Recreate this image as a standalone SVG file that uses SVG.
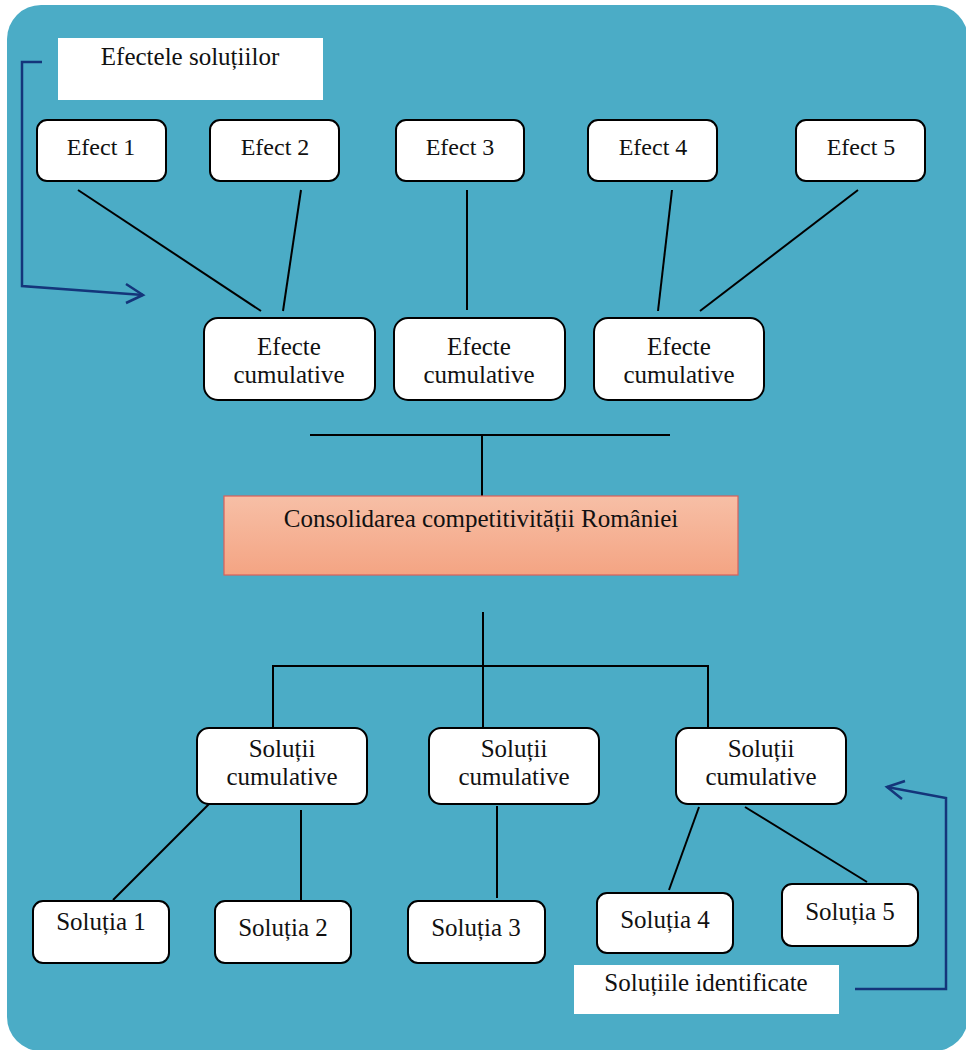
<svg xmlns="http://www.w3.org/2000/svg" width="966" height="1050" viewBox="0 0 966 1050">
<style>
.box{fill:#fff;stroke:#000;stroke-width:2}
.lbl{fill:#fff}
.t{font-family:"Liberation Serif","Times New Roman",serif;font-size:25px;fill:#111;text-anchor:middle}
.e{font-size:24px}
.ln{stroke:#000;stroke-width:2;fill:none}
.arr{stroke:#14357a;stroke-width:2.5;fill:none}
</style>
<defs>
<linearGradient id="g" x1="0" y1="0" x2="0" y2="1">
<stop offset="0" stop-color="#f7bfa6"/>
<stop offset="1" stop-color="#f4a483"/>
</linearGradient>
</defs>
<rect x="0" y="0" width="966" height="1050" fill="#fff"/>
<rect x="7" y="5" width="961" height="1046" rx="34" fill="#4bacc6"/>

<g id="connectors">
<line class="ln" x1="78" y1="190" x2="261" y2="311"/>
<line class="ln" x1="301" y1="190" x2="283" y2="311"/>
<line class="ln" x1="467" y1="190" x2="467" y2="310"/>
<line class="ln" x1="672" y1="190" x2="658" y2="311"/>
<line class="ln" x1="858" y1="190" x2="700" y2="311"/>
<line class="ln" x1="310" y1="435" x2="670" y2="435"/>
<line class="ln" x1="482" y1="435" x2="482" y2="498"/>
<line class="ln" x1="483" y1="612" x2="483" y2="728"/>
<polyline class="ln" points="273,728 273,666 708,666 708,728"/>
<line class="ln" x1="215" y1="798" x2="113" y2="900"/>
<line class="ln" x1="301" y1="810" x2="301" y2="900"/>
<line class="ln" x1="497" y1="806" x2="497" y2="898"/>
<line class="ln" x1="699" y1="807" x2="669" y2="890"/>
<line class="ln" x1="745" y1="807" x2="867" y2="882"/>
<polyline class="arr" points="42,62 22,62 22,286 143,295"/>
<polyline class="arr" points="126,284 143,295 126,303"/>
<polyline class="arr" points="855,989 946,989 946,798 887,787"/>
<polyline class="arr" points="905,781 887,787 902,799"/>
</g>

<g id="label-efecte">
<rect class="lbl" x="58" y="38" width="265" height="62"/>
<text class="t" x="190" y="65">Efectele soluțiilor</text>
</g>

<g id="efect1"><rect class="box" x="37" y="120" width="129" height="61" rx="10"/><text class="t e" x="101" y="155">Efect 1</text></g>
<g id="efect2"><rect class="box" x="210" y="120" width="129" height="61" rx="10"/><text class="t e" x="275" y="155">Efect 2</text></g>
<g id="efect3"><rect class="box" x="396" y="120" width="128" height="61" rx="10"/><text class="t e" x="460" y="155">Efect 3</text></g>
<g id="efect4"><rect class="box" x="588" y="120" width="129" height="61" rx="10"/><text class="t e" x="653" y="155">Efect 4</text></g>
<g id="efect5"><rect class="box" x="796" y="120" width="129" height="61" rx="10"/><text class="t e" x="861" y="155">Efect 5</text></g>

<g id="cum-ef1"><rect class="box" x="204" y="318" width="171" height="82" rx="14"/><text class="t" x="289" y="355">Efecte</text><text class="t" x="289" y="383">cumulative</text></g>
<g id="cum-ef2"><rect class="box" x="394" y="318" width="171" height="82" rx="14"/><text class="t" x="479" y="355">Efecte</text><text class="t" x="479" y="383">cumulative</text></g>
<g id="cum-ef3"><rect class="box" x="594" y="318" width="170" height="82" rx="14"/><text class="t" x="679" y="355">Efecte</text><text class="t" x="679" y="383">cumulative</text></g>

<g id="consolidarea">
<rect x="224" y="496" width="514" height="79" fill="url(#g)" stroke="#d9605a" stroke-width="1.2"/>
<text class="t" x="481" y="527">Consolidarea competitivității României</text>
</g>

<g id="cum-sol1"><rect class="box" x="197" y="728" width="170" height="76" rx="12"/><text class="t" x="282" y="757">Soluții</text><text class="t" x="282" y="785">cumulative</text></g>
<g id="cum-sol2"><rect class="box" x="429" y="728" width="170" height="76" rx="12"/><text class="t" x="514" y="757">Soluții</text><text class="t" x="514" y="785">cumulative</text></g>
<g id="cum-sol3"><rect class="box" x="676" y="728" width="170" height="76" rx="12"/><text class="t" x="761" y="757">Soluții</text><text class="t" x="761" y="785">cumulative</text></g>

<g id="sol1"><rect class="box" x="33" y="901" width="136" height="62" rx="10"/><text class="t" x="101" y="930">Soluția 1</text></g>
<g id="sol2"><rect class="box" x="215" y="901" width="136" height="62" rx="10"/><text class="t" x="283" y="936">Soluția 2</text></g>
<g id="sol3"><rect class="box" x="408" y="901" width="137" height="62" rx="10"/><text class="t" x="476" y="936">Soluția 3</text></g>
<g id="sol4"><rect class="box" x="597" y="893" width="136" height="60" rx="10"/><text class="t" x="665" y="928">Soluția 4</text></g>
<g id="sol5"><rect class="box" x="782" y="884" width="136" height="62" rx="10"/><text class="t" x="850" y="920">Soluția 5</text></g>

<g id="label-solutii">
<rect class="lbl" x="574" y="965" width="265" height="49"/>
<text class="t" x="706" y="991">Soluțiile identificate</text>
</g>
</svg>
